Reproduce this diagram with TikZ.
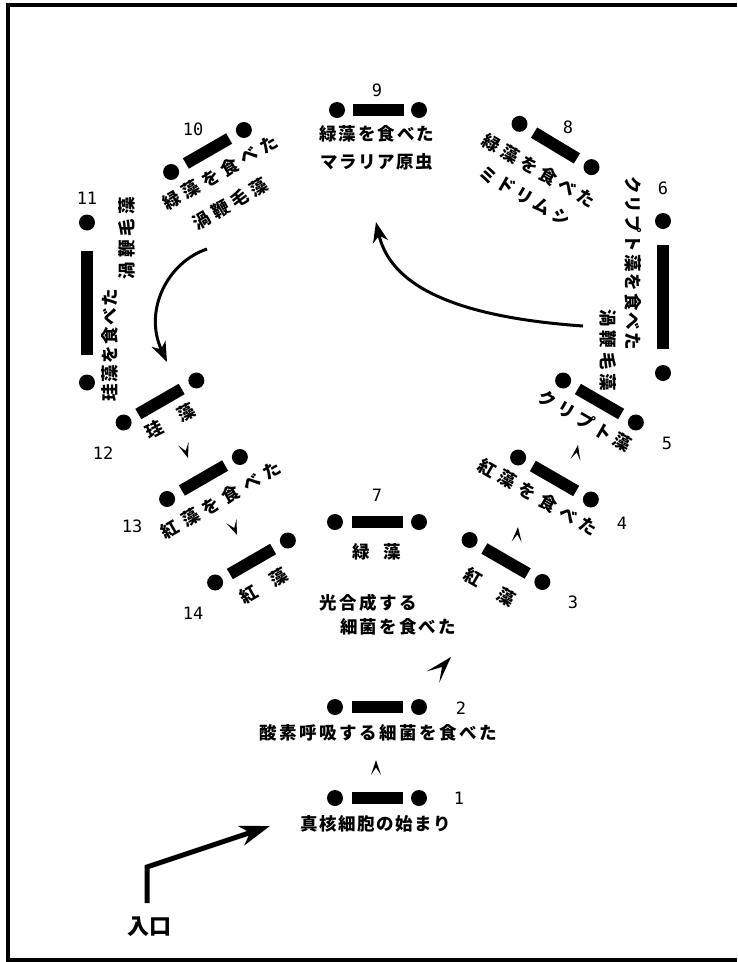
\documentclass[tikz,border=0pt]{standalone}
\usepackage{fontspec}
\newfontfamily\jp{Noto Sans CJK JP}
\newfontfamily\numf{DejaVu Sans Mono}
\usetikzlibrary{arrows.meta}
\makeatletter
\newcommand\trk[2]{\def\trk@k{#1}\@tfor\trk@c:=#2\do{\trk@c\kern\trk@k}\kern-\trk@k\relax}
\makeatother
\tikzset{
  dot/.style={circle,fill=black,inner sep=0pt,minimum size=16pt},
  barline/.style={line width=12pt,line cap=butt},
  jtxt/.style={font=\jp\fontsize{17.5}{20}\bfseries\selectfont,inner sep=0pt},
  jtwo/.style={font=\jp\fontsize{17.5}{#1}\bfseries\selectfont,inner sep=0pt,align=center},
  numtxt/.style={font=\numf\fontsize{17}{19}\selectfont,inner sep=0pt},
  curvearrow/.style={line width=3pt,-{Stealth[length=20pt,width=15pt,inset=6pt]}},
  entryarrow/.style={line width=5pt,line join=miter,-{Stealth[length=30pt,width=20pt,inset=9pt]}},
  pics/dumb/.style 2 args={code={
    \node[dot] (-l) at (-#1,0) {};
    \node[dot] (-r) at (#1,0) {};
    \draw[barline] (-#2,0) -- (#2,0);
  }},
  pics/ahead/.style 2 args={code={
    \fill (0,0) -- (-#1,{#2/2}) -- ({-0.5*#1},0) -- (-#1,{-#2/2}) -- cycle;
  }}
}
\begin{document}
\begin{tikzpicture}[x=1pt,y=-1pt]
\useasboundingbox (0,0) rectangle (737,962);
% frame
\draw[line width=4pt,line join=miter] (737,5) -- (8,5) -- (8,959.5) -- (737,959.5);

% dumbbells
\pic (e1) at (377,798) {dumb={42}{25.5}};
\pic (e2) at (377,707) {dumb={42}{25.5}};
\pic[rotate=-30] (e3) at (506,561) {dumb={42}{25}};
\pic[rotate=-30] (e4) at (554.5,478.5) {dumb={42}{25}};
\pic[rotate=-30] (e5) at (599.5,401.5) {dumb={42}{25}};
\pic[rotate=-90] (e6) at (663,297) {dumb={76}{52}};
\pic (e7) at (377,522) {dumb={42}{25.5}};
\pic[rotate=-31] (e8) at (555.5,145.5) {dumb={42}{25}};
\pic (e9) at (378,110) {dumb={41}{25.5}};
\pic[rotate=30] (e10) at (207.5,151) {dumb={42}{25}};
\pic[rotate=-90] (e11) at (87,302.5) {dumb={80}{52}};
\pic[rotate=30] (e12) at (160,401.5) {dumb={42}{25}};
\pic[rotate=30] (e13) at (203.5,478) {dumb={42}{25}};
\pic[rotate=30] (e14) at (251.5,561.5) {dumb={42}{25}};

% numbers
\node[numtxt] (n1) at (459,798) {1};
\node[numtxt] (n2) at (461,708) {2};
\node[numtxt] (n3) at (573,602) {3};
\node[numtxt] (n4) at (622,523) {4};
\node[numtxt] (n5) at (667,443) {5};
\node[numtxt] (n6) at (663,188) {6};
\node[numtxt] (n7) at (377,495) {7};
\node[numtxt] (n8) at (568,127) {8};
\node[numtxt] (n9) at (377,90) {9};
\node[numtxt] (n10) at (193,129) {10};
\node[numtxt] (n11) at (87,198) {11};
\node[numtxt] (n12) at (103,453) {12};
\node[numtxt] (n13) at (132,526) {13};
\node[numtxt] (n14) at (193,613) {14};

% labels
\node[jtxt] (t1) at (376,824) {\trk{1.5pt}{真核細胞の始まり}};
\node[jtxt] (t2) at (378,733) {\trk{2.5pt}{酸素呼吸する細菌を食べた}};
\node[jtxt] (t7a) at (368,603) {\trk{2.5pt}{光合成する}};
\node[jtxt] (t7b) at (398,627) {\trk{2.2pt}{細菌を食べた}};
\node[jtxt] (t7) at (377,552) {\trk{13.5pt}{緑藻}};
\node[jtxt,rotate=-30] (t3) at (490,587) {\trk{21pt}{紅藻}};
\node[jtxt,rotate=-30] (t4) at (538,497) {\trk{6pt}{紅藻を食べた}};
\node[jtxt,rotate=-30] (t5) at (585,421) {\trk{4pt}{クリプト藻}};
\node[jtxt,rotate=-90] (t6a) at (633,263) {\trk{2pt}{クリプト藻を食べた}};
\node[jtxt,rotate=-90] (t6b) at (608,350) {\trk{4pt}{渦鞭毛藻}};
\node[jtwo=29,rotate=-30] (t8) at (532,183) {\trk{4.5pt}{緑藻を食べた}\\\trk{3.5pt}{ミドリムシ}};
\node[jtxt] (t9a) at (377,134) {\trk{2pt}{緑藻を食べた}};
\node[jtxt] (t9b) at (377,162) {\trk{1.5pt}{マラリア原虫}};
\node[jtwo=32,rotate=30] (t10) at (228,186.5) {\trk{5pt}{緑藻を食べた}\\\trk{4.5pt}{渦鞭毛藻}\hspace*{14pt}};
\node[jtxt,rotate=90] (t11a) at (110,345) {\trk{1.5pt}{珪藻を食べた}};
\node[jtxt,rotate=90] (t11b) at (127,238) {\trk{4pt}{渦鞭毛藻}};
\node[jtxt,rotate=27] (t12) at (170,421) {\trk{18.5pt}{珪藻}};
\node[jtxt,rotate=30] (t13) at (221,500) {\trk{6pt}{紅藻を食べた}};
\node[jtxt,rotate=30] (t14) at (264,586) {\trk{17.5pt}{紅藻}};

% standalone arrowheads
\pic[rotate=90] (a12) at (376,760) {ahead={15}{10}};
\pic[rotate=48] (a27) at (451,657) {ahead={27}{17}};
\pic[rotate=85] (a34) at (518,527) {ahead={15}{10}};
\pic[rotate=80] (a45) at (578,445) {ahead={15}{10}};
\pic[rotate=-72] (a1213) at (188,458) {ahead={15}{11}};
\pic[rotate=-68] (a1314) at (237,535) {ahead={15}{11}};

% curved arrows
\coordinate (c10s) at (207,249);
\coordinate (c12e) at (167,362);
\draw[curvearrow] (c10s) .. controls (168,262) and (143,310) .. (c12e);
\coordinate (c5s) at (583,326);
\coordinate (c9e) at (376,222);
\draw[curvearrow] (c5s) .. controls (470,318) and (392,292) .. (c9e);

% entry
\node[font=\jp\fontsize{22}{24}\bfseries\selectfont,inner sep=0pt] (entry) at (149,927) {入口};
\coordinate (in0) at (147,903);
\coordinate (in1) at (147,867);
\coordinate (in2) at (270,826);
\draw[entryarrow] (in0) -- (in1) -- (in2);
\end{tikzpicture}
\end{document}
